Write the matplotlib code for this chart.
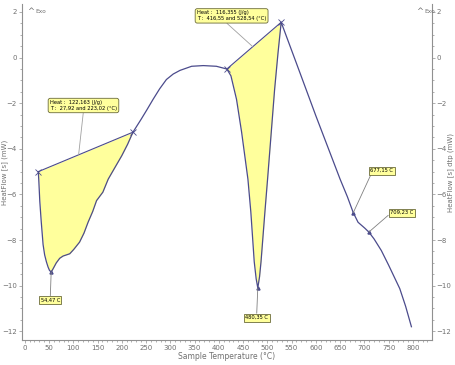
import numpy as np
import matplotlib
matplotlib.use("Agg")
import matplotlib.pyplot as plt
from matplotlib.ticker import MultipleLocator

# DSC curve
temp = [27.92, 29, 31, 34, 37.8, 41, 44.7, 48, 51, 54.47, 58.4, 65, 72, 79, 86, 92.8,
        101, 113, 122, 130.5, 140, 148, 161, 172, 185, 200, 212, 223.02,
        240, 252, 264.5, 278, 292, 306, 320, 344, 368, 395, 416.55,
        425, 436.5, 447, 460, 466, 473, 477, 480.35, 484, 487, 495, 500.5,
        508, 515, 522, 528.54,
        560, 600, 650, 665, 677.15, 687, 701, 709.23, 720, 735, 750, 773, 785, 797]
heat = [-5.0, -5.4, -6.3, -7.2, -8.2, -8.65, -8.96, -9.18, -9.33, -9.4, -9.26, -9.0, -8.8, -8.7, -8.65, -8.6,
        -8.41, -8.09, -7.7, -7.22, -6.75, -6.27, -5.9, -5.33, -4.85, -4.3, -3.8, -3.27,
        -2.7, -2.28, -1.83, -1.37, -0.96, -0.72, -0.56, -0.38, -0.35, -0.38, -0.5,
        -0.8, -1.83, -3.27, -5.33, -6.77, -8.95, -9.7, -10.1, -9.6, -8.95, -6.77, -5.33,
        -3.3, -1.4, 0.2, 1.55,
        -0.25, -2.55, -5.33, -6.1, -6.8, -7.22, -7.48, -7.65, -7.95, -8.46, -9.1, -10.13, -10.9, -11.8]

# integration windows (baseline ends) and results
base1 = [27.92, 223.02]
base2 = [416.55, 528.54]
heat1 = "Heat :  122,163 (J/g)\nT :  27,92 and 223,02 (°C)"
heat2 = "Heat :  116,355 (J/g)\nT :  416,55 and 528,54 (°C)"
peaks = [54.47, 480.35, 677.15, 709.23]
peak_txt = ["54,47 C", "480,35 C", "677,15 C", "709,23 C"]

temp = np.array(temp)
heat = np.array(heat)

line_c = "#4b4b8c"
grey = "#707070"
box_face = "#ffff9c"
box_edge = "#6b6b3a"

fig = plt.figure(figsize=[4.55, 3.65], dpi=100)
ax = fig.add_axes([0.048, 0.068, 0.901, 0.921])
ax.set_xlim(-6, 839)
ax.set_ylim(-12.39, 2.35)

# yellow areas between curve and straight baseline
for b in (base1, base2):
    m = (temp >= b[0]) & (temp <= b[1])
    yb = np.interp(temp[m], b, np.interp(b, temp, heat))
    ax.fill_between(temp[m], heat[m], yb, color=box_face, lw=0)
    ax.plot(b, np.interp(b, temp, heat), color=line_c, lw=0.8)
    ax.plot(b, np.interp(b, temp, heat), "x", color=line_c, ms=4, mew=0.6)

ax.plot(temp, heat, color=line_c, lw=0.9)

pk_y = np.interp(peaks, temp, heat)
ax.plot(peaks, pk_y, "^", color=line_c, ms=2.2)

fs = 3.7
box_r = dict(boxstyle="round,pad=0.35,rounding_size=0.4", fc=box_face, ec=box_edge, lw=0.6)
box_s = dict(boxstyle="square,pad=0.3", fc=box_face, ec=box_edge, lw=0.6)
arr = dict(arrowstyle="-", color="#a0a0a0", lw=0.6, shrinkA=0, shrinkB=0)

x1 = 111
ax.annotate(heat1, xy=(x1, np.interp(x1, base1, np.interp(base1, temp, heat))),
            xytext=(52, -2.1), fontsize=fs, va="center", ha="left",
            bbox=box_r, arrowprops=dict(arr, relpos=(0.5, 0)))
x2 = 470
ax.annotate(heat2, xy=(x2, np.interp(x2, base2, np.interp(base2, temp, heat))),
            xytext=(355, 1.83), fontsize=fs, va="center", ha="left",
            bbox=box_r, arrowprops=dict(arr, relpos=(0.4, 0)))

txt_pos = [(52.6, -10.63), (478, -11.4), (736, -4.96), (777, -6.8)]
rel = [(0.5, 1), (0.5, 1), (0.05, 0), (0, 0.3)]
for p, py, t, xy, rp in zip(peaks, pk_y, peak_txt, txt_pos, rel):
    ax.annotate(t, xy=(p, py), xytext=xy, fontsize=fs, ha="center", va="center",
                bbox=box_s, arrowprops=dict(arr, color="#808080", relpos=rp))

# Exo markers
ax.text(0.012, 0.978, "^", transform=ax.transAxes, fontsize=6, color=grey, va="center")
ax.text(0.032, 0.978, "Exo", transform=ax.transAxes, fontsize=4.2, color=grey, va="center")
ax.text(0.962, 0.978, "^", transform=ax.transAxes, fontsize=6, color=grey, va="center")
ax.text(0.982, 0.978, "Exo", transform=ax.transAxes, fontsize=4.2, color=grey, va="center")

ax.spines["top"].set_visible(False)
for s in ("left", "bottom", "right"):
    ax.spines[s].set_color("#909090")
    ax.spines[s].set_linewidth(0.8)

ax.xaxis.set_major_locator(MultipleLocator(50))
ax.xaxis.set_minor_locator(MultipleLocator(10))
ax.yaxis.set_major_locator(MultipleLocator(2))
ax.yaxis.set_minor_locator(MultipleLocator(0.5))
ax.tick_params(which="both", direction="out", colors="#909090", labelcolor=grey,
               labelsize=5, width=0.5, pad=1)
ax.tick_params(which="major", length=2.5)
ax.tick_params(which="minor", length=1.2)
ax.tick_params(axis="y", which="both", left=True, right=True, labelright=True)

ax.text(0.5, -0.05, "Sample Temperature (°C)", transform=ax.transAxes,
        fontsize=5.5, color=grey, ha="center", va="center")
ax.text(-0.043, 0.5, "HeatFlow [s] (mW)", transform=ax.transAxes, rotation=90,
        fontsize=5, color=grey, va="center", ha="center")
ax.text(1.046, 0.5, "HeatFlow [s] dtp (mW)", transform=ax.transAxes, rotation=90,
        fontsize=5, color=grey, va="center", ha="center")

fig.savefig("out.png", dpi=100)
